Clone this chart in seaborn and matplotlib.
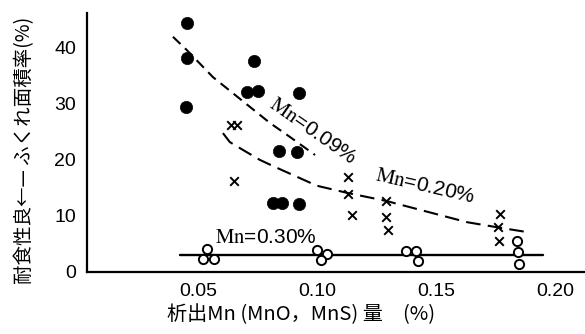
import numpy as np
import pandas as pd
import matplotlib
matplotlib.use("Agg")
import matplotlib.pyplot as plt
import seaborn as sns

# ---- data ----
mn009_x = [0.0453, 0.0455, 0.0450, 0.0735, 0.0705, 0.0751, 0.0924, 0.0839, 0.0917, 0.0816, 0.0852, 0.0924]
mn009_y = [44.4, 38.3, 29.4, 37.7, 32.2, 32.4, 32.0, 21.6, 21.5, 12.3, 12.3, 12.1]

mn020_x = [0.0637, 0.0665, 0.0651, 0.1129, 0.1129, 0.1146, 0.1290, 0.1290, 0.1297, 0.1769, 0.1762, 0.1766]
mn020_y = [26.2, 26.2, 16.3, 17.0, 13.9, 10.2, 12.7, 9.9, 7.5, 10.4, 8.1, 5.5]

mn030_x = [0.0539, 0.0520, 0.0568, 0.0999, 0.1043, 0.1017, 0.1374, 0.1415, 0.1426, 0.1842, 0.1846, 0.1849]
mn030_y = [4.05, 2.4, 2.4, 3.9, 3.3, 2.1, 3.8, 3.8, 2.0, 5.6, 3.6, 1.4]

curve009_x = [0.0395, 0.0454, 0.0563, 0.0718, 0.0803, 0.0887, 0.0992]
curve009_y = [42.0, 39.6, 34.8, 29.5, 26.6, 24.1, 20.9]

curve020_x = [0.0605, 0.0634, 0.0689, 0.0761, 0.0832, 0.0916, 0.1000, 0.1130, 0.1290, 0.1487, 0.1630, 0.1769, 0.1887]
curve020_y = [24.8, 23.2, 21.8, 20.0, 18.6, 17.0, 15.4, 14.1, 12.7, 10.5, 8.9, 7.9, 7.1]

line030_x = [0.0425, 0.1950]
line030_y = [3.0, 3.0]

x_ticks = [0.05, 0.10, 0.15, 0.20]
x_ticklabels = ["0.05", "0.10", "0.15", "0.20"]
y_ticks = [0, 10, 20, 30, 40]
y_ticklabels = ["0", "10", "20", "30", "40"]

labels = [r"$\mathrm{Mn}$=0.09%", r"$\mathrm{Mn}$=0.20%", r"$\mathrm{Mn}$=0.30%"]
xlabel = "析出Mn (MnO，MnS) 量　(%)"
ylabel = "耐食性良←— ふくれ面積率(%)"

# ---- style ----
sns.set_theme(style="white")
plt.rcParams["font.family"] = ["Liberation Sans", "Noto Sans CJK JP", "DejaVu Sans"]
plt.rcParams["mathtext.fontset"] = "stix"
plt.rcParams["text.color"] = "black"
plt.rcParams["axes.labelcolor"] = "black"

fig = plt.figure(figsize=(5.85, 3.34), dpi=100)
ax = fig.add_axes([87 / 585, 62 / 334, 498 / 585, 259 / 334])

df009 = pd.DataFrame({"x": mn009_x, "y": mn009_y})
df020 = pd.DataFrame({"x": mn020_x, "y": mn020_y})
df030 = pd.DataFrame({"x": mn030_x, "y": mn030_y})

sns.lineplot(data=pd.DataFrame({"x": curve009_x, "y": curve009_y}), x="x", y="y",
             sort=False, ax=ax, color="black", lw=1.5, estimator=None)
ax.lines[-1].set_dashes([5, 3])
sns.lineplot(data=pd.DataFrame({"x": curve020_x, "y": curve020_y}), x="x", y="y",
             sort=False, ax=ax, color="black", lw=1.5, estimator=None)
ax.lines[-1].set_dashes([7, 3.5])
sns.lineplot(data=pd.DataFrame({"x": line030_x, "y": line030_y}), x="x", y="y",
             sort=False, ax=ax, color="black", lw=1.7, estimator=None)

sns.scatterplot(data=df009, x="x", y="y", ax=ax, marker="o", s=78,
                color="black", edgecolor="black", linewidth=0.5, zorder=5)
sns.scatterplot(data=df020, x="x", y="y", ax=ax, marker="x", s=38,
                color="black", linewidth=1.4, zorder=5)
sns.scatterplot(data=df030, x="x", y="y", ax=ax, marker="o", s=44,
                facecolor="white", edgecolor="black", linewidth=1.4, zorder=5)

# curve labels
ax.text(0.0985, 25.2, labels[0], rotation=-35, ha="center", va="center",
        fontsize=15, rotation_mode="anchor", color="black")
ax.text(0.1455, 15.3, labels[1], rotation=-13, ha="center", va="center",
        fontsize=15, rotation_mode="anchor", color="black")
ax.text(0.0785, 6.2, labels[2], rotation=0, ha="center", va="center",
        fontsize=15, color="black")

ax.set_xlim(0.0034, 0.2126)
ax.set_ylim(0, 46.25)
ax.set_xticks(x_ticks)
ax.set_xticklabels(x_ticklabels)
ax.set_yticks(y_ticks)
ax.set_yticklabels(y_ticklabels)
ax.tick_params(axis="both", direction="in", length=6, width=1.2, color="black",
               labelsize=14, labelcolor="black")
ax.tick_params(axis="x", pad=8)
ax.tick_params(axis="y", pad=8)

for s in ["top", "right"]:
    ax.spines[s].set_visible(False)
for s in ["left", "bottom"]:
    ax.spines[s].set_color("black")
    ax.spines[s].set_linewidth(1.6)

ax.set_xlabel(xlabel, fontsize=14.5, family=["Noto Sans CJK JP", "DejaVu Sans"], color="black")
ax.xaxis.set_label_coords((301 - 87) / 498, (272 - 304) / 259)
ax.set_ylabel(ylabel, fontsize=14, family=["Noto Sans CJK JP", "DejaVu Sans"], color="black")
ax.yaxis.set_label_coords((35 - 87) / 498, (272 - 150) / 259)

fig.savefig("out.png", dpi=100)
